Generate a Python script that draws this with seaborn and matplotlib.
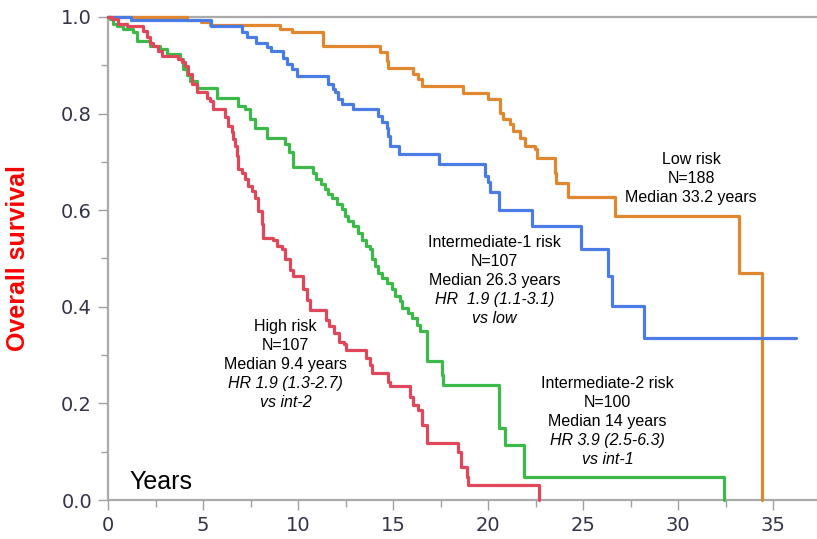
import numpy as np
import pandas as pd
import matplotlib
matplotlib.use("Agg")
import matplotlib.pyplot as plt
import seaborn as sns
from matplotlib.ticker import MultipleLocator

# ---- data ----
groups = ["Low risk", "Intermediate-1 risk", "Intermediate-2 risk", "High risk"]

low_t = [0, 4.14, 4.9, 5.37, 9.07, 9.7, 11.33, 14.32, 14.67, 14.75, 16.07, 16.33, 16.5,
         18.7, 20.0, 20.63, 20.8, 21.16, 21.33, 21.68, 21.95, 22.47, 22.56, 23.5, 23.6,
         24.2, 26.7, 33.2, 34.4]
low_s = [1.0, 0.994, 0.99, 0.983, 0.976, 0.968, 0.94, 0.927, 0.909, 0.895, 0.881, 0.871, 0.857,
         0.842, 0.83, 0.802, 0.788, 0.778, 0.764, 0.75, 0.733, 0.726, 0.709, 0.678, 0.656,
         0.627, 0.587, 0.471, 0.0]

int1_t = [0, 1.2, 5.4, 7.03, 7.3, 7.8, 8.35, 8.6, 9.2, 9.4, 9.67, 9.93, 11.58, 11.86, 11.95,
          12.12, 12.3, 12.9, 14.2, 14.4, 14.7, 14.75, 14.84, 15.3, 17.4, 19.84, 20.0, 20.1,
          20.6, 22.3, 24.9, 26.3, 26.5, 28.2, 36.2]
int1_s = [1.0, 0.993, 0.981, 0.968, 0.958, 0.947, 0.937, 0.93, 0.916, 0.902, 0.892, 0.878, 0.861,
          0.85, 0.844, 0.83, 0.82, 0.809, 0.795, 0.782, 0.771, 0.754, 0.733, 0.716, 0.695, 0.671,
          0.658, 0.637, 0.60, 0.567, 0.519, 0.463, 0.401, 0.335, 0.335]

int2_t = [0, 0.1, 0.28, 0.46, 0.8, 1.33, 1.5, 2.2, 2.74, 3.1, 3.8, 3.96, 4.14, 4.3, 4.67, 5.72,
          6.86, 7.2, 7.47, 7.74, 8.35, 9.3, 9.5, 9.75, 10.8, 10.97, 11.2, 11.4, 11.6, 11.77,
          12.04, 12.3, 12.47, 12.65, 12.9, 13.17, 13.35, 13.6, 13.77, 13.9, 14.05, 14.2, 14.4,
          14.67, 14.93, 15.1, 15.37, 15.46, 15.8, 16.0, 16.25, 16.4, 16.8, 17.6, 17.65, 20.6,
          20.9, 21.9, 32.4]
int2_s = [1.0, 0.996, 0.985, 0.982, 0.975, 0.968, 0.951, 0.94, 0.934, 0.923, 0.913, 0.892, 0.88,
          0.868, 0.854, 0.833, 0.816, 0.809, 0.788, 0.771, 0.75, 0.737, 0.72, 0.69, 0.678, 0.664,
          0.654, 0.644, 0.634, 0.625, 0.612, 0.602, 0.588, 0.577, 0.567, 0.553, 0.539, 0.526,
          0.519, 0.498, 0.484, 0.47, 0.46, 0.45, 0.436, 0.422, 0.411, 0.398, 0.387, 0.377,
          0.363, 0.349, 0.287, 0.259, 0.239, 0.149, 0.114, 0.048, 0.0]

high_t = [0, 0.2, 0.54, 0.98, 1.86, 2.04, 2.2, 2.38, 2.65, 2.83, 3.7, 3.88, 4.05, 4.23, 4.4,
          4.67, 5.2, 5.37, 5.54, 6.16, 6.33, 6.5, 6.6, 6.68, 6.77, 6.86, 7.04, 7.2, 7.38, 7.56,
          7.74, 7.9, 8.1, 8.17, 8.7, 8.88, 9.14, 9.3, 9.58, 9.75, 10.28, 10.46, 10.63, 11.47,
          11.65, 11.91, 12.17, 12.44, 12.53, 13.6, 13.8, 13.88, 14.75, 14.84, 15.9, 16.07,
          16.33, 16.5, 16.8, 18.44, 18.6, 18.88, 18.96, 22.7]
high_s = [1.0, 0.996, 0.985, 0.982, 0.972, 0.958, 0.947, 0.94, 0.93, 0.92, 0.913, 0.906, 0.899,
          0.882, 0.861, 0.844, 0.833, 0.826, 0.809, 0.792, 0.774, 0.761, 0.747, 0.733, 0.712,
          0.685, 0.678, 0.664, 0.65, 0.64, 0.626, 0.598, 0.571, 0.543, 0.539, 0.526, 0.519,
          0.498, 0.477, 0.463, 0.436, 0.415, 0.394, 0.373, 0.36, 0.346, 0.328, 0.322, 0.311,
          0.294, 0.28, 0.263, 0.245, 0.235, 0.214, 0.197, 0.187, 0.156, 0.118, 0.1, 0.069,
          0.048, 0.031, 0.0]

x_ticks = [0, 5, 10, 15, 20, 25, 30, 35]
y_ticks = [0.0, 0.2, 0.4, 0.6, 0.8, 1.0]

# annotation blocks: (x, y of first line, lines, italic flags)
labels = [
    (30.7, 0.704, ["Low risk", "N=188", "Median 33.2 years"], [False, False, False]),
    (20.35, 0.534, ["Intermediate-1 risk", "N=107", "Median 26.3 years",
                    "HR  1.9 (1.1-3.1)", "vs low"], [False, False, False, True, True]),
    (9.35, 0.36, ["High risk", "N=107", "Median 9.4 years",
                  "HR 1.9 (1.3-2.7)", "vs int-2"], [False, False, False, True, True]),
    (26.3, 0.242, ["Intermediate-2 risk", "N=100", "Median 14 years",
                   "HR 3.9 (2.5-6.3)", "vs int-1"], [False, False, False, True, True]),
]

colors = {"Low risk": "#E0872F", "Intermediate-1 risk": "#4B7BE5",
          "Intermediate-2 risk": "#3DB94A", "High risk": "#E0475B"}

# ---- build long table ----
frames = []
for g, t, s in zip(groups, [low_t, int1_t, int2_t, high_t], [low_s, int1_s, int2_s, high_s]):
    frames.append(pd.DataFrame({"time": t, "surv": s, "group": g}))
df = pd.concat(frames, ignore_index=True)

sns.set_style("white")
plt.rcParams["font.family"] = ["Liberation Sans", "DejaVu Sans"]

fig = plt.figure(figsize=(8.17, 5.39), dpi=100)
ax = fig.add_axes([108 / 817, 39 / 539, 1 - 108 / 817, (500 - 17) / 539])

sns.lineplot(data=df, x="time", y="surv", hue="group", palette=colors,
             drawstyle="steps-post", estimator=None, sort=False, legend=False,
             linewidth=2.3, ax=ax)
for ln in ax.get_lines():
    ln.set_clip_on(False)
    ln.set_zorder(3)

ax.set_xlim(0, (817 - 108) / 19)
ax.set_ylim(0, 1.0)
ax.set_xticks(x_ticks)
ax.set_yticks(y_ticks)
ax.set_yticklabels([f"{v:.1f}" for v in y_ticks])
ax.xaxis.set_minor_locator(MultipleLocator(2.5))
ax.yaxis.set_minor_locator(MultipleLocator(0.1))
ax.tick_params(axis="both", which="major", length=7.5, width=1.0, color="#a0a0a0",
               labelsize=14, labelcolor="#33334a", pad=4, direction="out")
ax.tick_params(axis="both", which="minor", length=5, width=1.0, color="#a0a0a0",
               direction="out")
ax.tick_params(axis="x", which="both", bottom=True)
ax.tick_params(axis="y", which="both", left=True)
for lab in ax.get_xticklabels() + ax.get_yticklabels():
    lab.set_fontfamily("DejaVu Sans")

for side in ["left", "bottom", "top"]:
    ax.spines[side].set_visible(True)
    ax.spines[side].set_color("#aaaaaa")
    ax.spines[side].set_linewidth(1.6)
ax.spines["right"].set_visible(False)
ax.set_xlabel("")
ax.set_ylabel("")

# "Years" inside the axes
ax.text(1.15, 0.022, "Years", fontsize=18, ha="left", va="baseline", color="black")

# y label
fig.text(18 / 817, 1 - 258 / 539, "Overall survival", rotation=90, color="#ff0000",
         fontsize=18, fontweight="bold", ha="center", va="center")

# annotation blocks
for x, y, lines, ital in labels:
    for i, (txt, it) in enumerate(zip(lines, ital)):
        ax.annotate(txt, xy=(x, y), xytext=(0, -19 * i), textcoords="offset pixels",
                    ha="center", va="center", fontsize=11.5,
                    fontstyle="italic" if it else "normal", color="black")

fig.savefig("out.png", dpi=100)
